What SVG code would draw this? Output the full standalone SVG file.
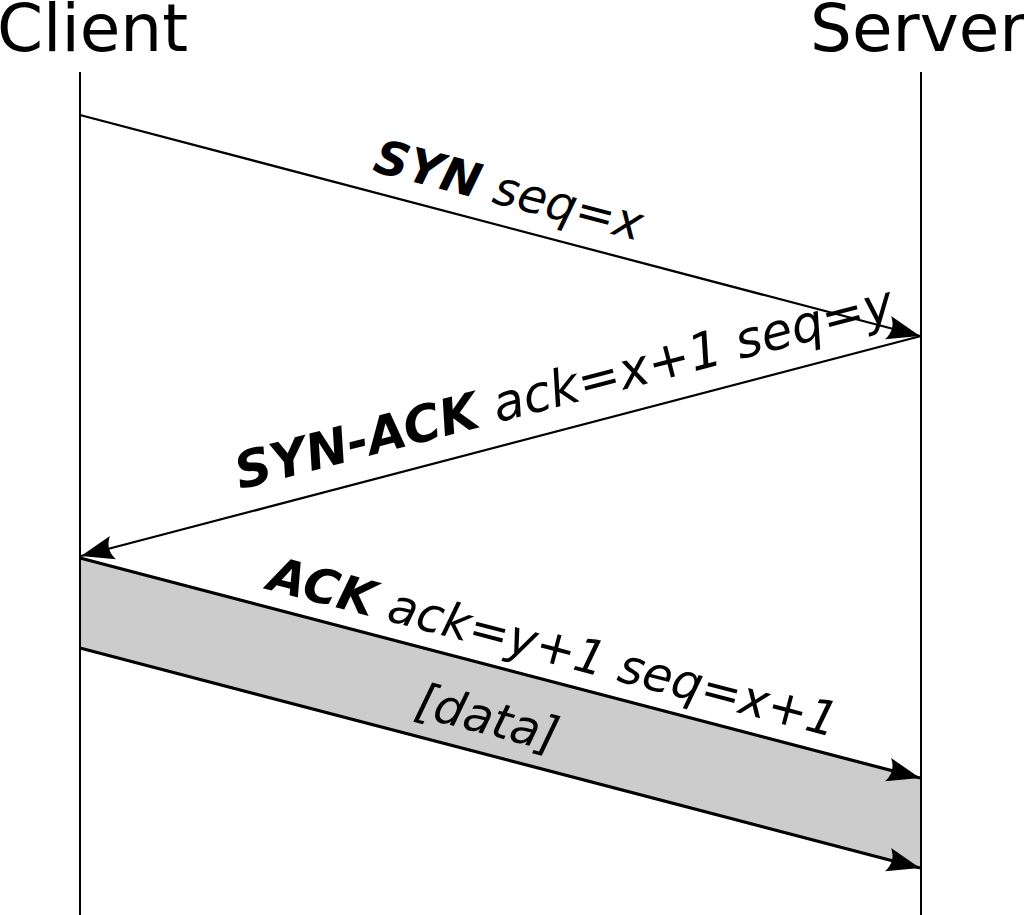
<svg xmlns="http://www.w3.org/2000/svg" width="1024" height="915" viewBox="0 0 1024 915">
<defs>
<style>
text{font-family:"DejaVu Sans","Liberation Sans",sans-serif;fill:#000}
.title{font-size:66px}
.lbl{font-style:oblique}
.b{font-weight:bold}
.life{stroke:#000;stroke-width:2;fill:none}
.msg{stroke:#000;stroke-width:2.3;fill:none}
.thick{stroke-width:3.2}
</style>
<marker id="ah" viewBox="-34 -13 36 26" markerWidth="36" markerHeight="26" refX="0" refY="0" orient="auto" markerUnits="userSpaceOnUse">
<path d="M0,0 L-33,-12 Q-25,0 -33,12 Z" fill="#000"/>
</marker>
</defs>
<rect width="1024" height="915" fill="#fff"/>
<g id="band">
<polygon points="80,558 921,778 921,868 80,648" fill="#cccccc"/>
</g>
<g id="client">
<text class="title" x="-3" y="51">Client</text>
<line class="life" x1="80" y1="72" x2="80" y2="915"/>
</g>
<g id="server">
<text class="title" x="810" y="51">Server</text>
<line class="life" x1="921" y1="72" x2="921" y2="915"/>
</g>
<g id="connectors">
<line class="msg" x1="80" y1="115" x2="920" y2="336" marker-end="url(#ah)"/>
<line class="msg" x1="921" y1="336" x2="81" y2="556" marker-end="url(#ah)"/>
<line class="msg thick" x1="80" y1="558" x2="920" y2="778" marker-end="url(#ah)"/>
<line class="msg thick" x1="80" y1="648" x2="920" y2="868" marker-end="url(#ah)"/>
</g>
<g id="labels">
<text class="lbl" font-size="47.5" text-anchor="middle" transform="translate(500.5,225.5) rotate(14.72)" x="-1" y="-20"><tspan class="b">SYN</tspan> seq=x</text>
<text class="lbl" font-size="50.5" text-anchor="middle" transform="translate(500.5,445.5) rotate(-14.6)" x="76" y="-23"><tspan class="b">SYN-ACK</tspan> ack=x+1 seq=y</text>
<text class="lbl" font-size="48" text-anchor="middle" transform="translate(500.5,668) rotate(14.66)" x="46" y="-17"><tspan class="b">ACK</tspan> ack=y+1 seq=x+1</text>
<text class="lbl" font-size="48" text-anchor="middle" transform="translate(500.5,668) rotate(14.66)" x="0" y="68">[data]</text>
</g>
</svg>
